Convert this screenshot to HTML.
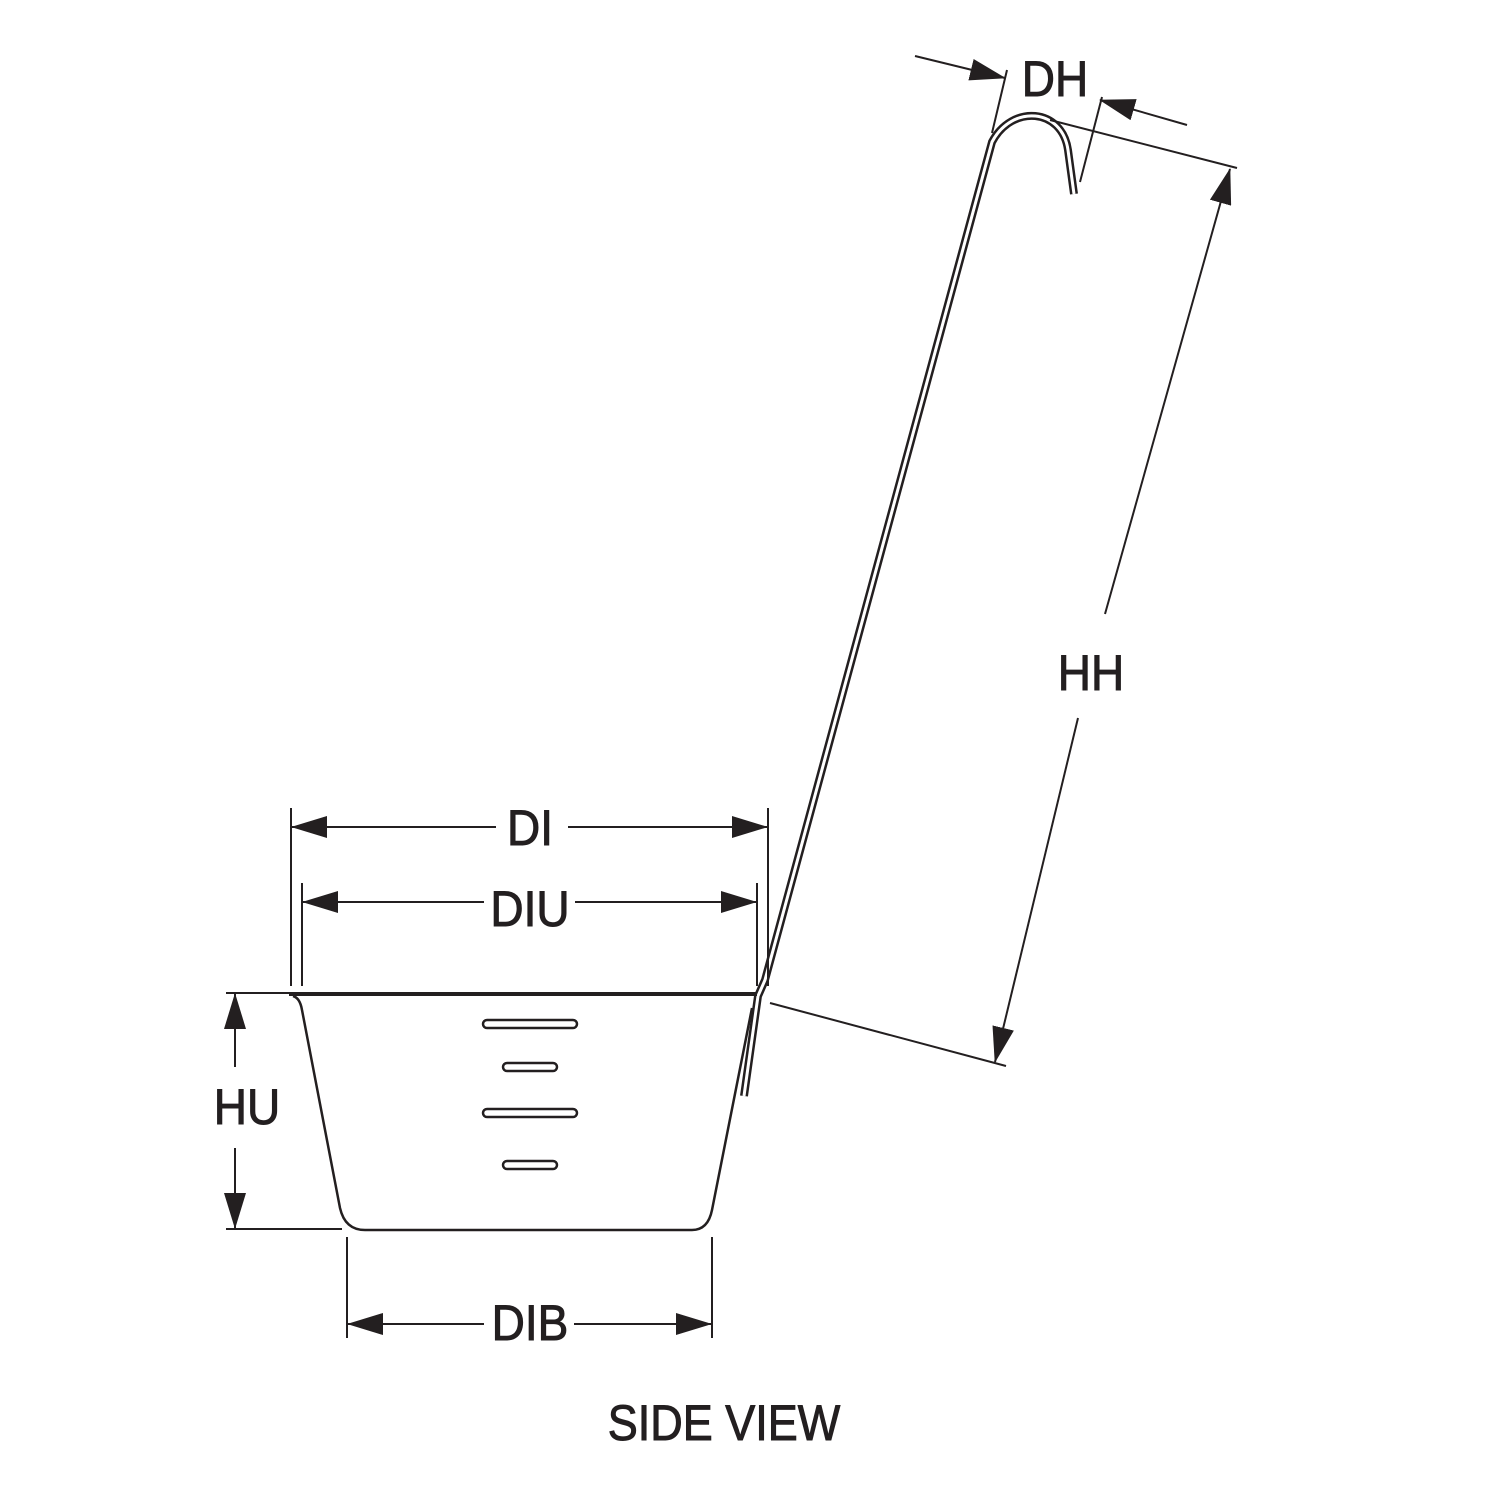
<!DOCTYPE html>
<html><head><style>
html,body{margin:0;padding:0;background:#fff;}
svg{display:block}
text{font-family:"Liberation Sans",sans-serif;fill:#231f20;}
</style></head><body>
<svg width="1500" height="1500" viewBox="0 0 1500 1500" xmlns="http://www.w3.org/2000/svg">
<defs>
<marker id="a" markerWidth="36" markerHeight="22" refX="35" refY="11" orient="auto" markerUnits="userSpaceOnUse">
<path d="M0,0 L36,11 L0,22 Z" fill="#231f20"/>
</marker>
</defs>
<g stroke="#231f20" fill="none" stroke-width="2">
<!-- handle -->
<path d="M1074,194 L1068,150 C1062,108 1012,104 992,142 L765,980 L758,996 L744,1096" stroke-width="8" stroke-linejoin="round"/>
<path d="M1074,194 L1068,150 C1062,108 1012,104 992,142 L765,980 L758,996 L744,1096" stroke="#fff" stroke-width="3" stroke-linejoin="round"/>
<!-- bowl -->
<path d="M289,994 L757,994" stroke-width="4"/>
<path d="M293,996 Q300,998 302,1010 L340,1208 Q345,1230 365,1230 L692,1230 Q708,1230 712,1210 L752,1008" stroke-width="2.5"/>
<!-- slots -->
<rect x="483" y="1020" width="94" height="8" rx="4" stroke-width="2.5"/>
<rect x="503" y="1063" width="54" height="8" rx="4" stroke-width="2.5"/>
<rect x="483" y="1109" width="94" height="8" rx="4" stroke-width="2.5"/>
<rect x="503" y="1161" width="54" height="8" rx="4" stroke-width="2.5"/>
<!-- DI -->
<line x1="291" y1="808" x2="291" y2="986"/>
<line x1="768" y1="808" x2="768" y2="986"/>
<line x1="496" y1="827" x2="292" y2="827" marker-end="url(#a)"/>
<line x1="568" y1="827" x2="767" y2="827" marker-end="url(#a)"/>
<!-- DIU -->
<line x1="302" y1="883" x2="302" y2="986"/>
<line x1="757" y1="883" x2="757" y2="986"/>
<line x1="484" y1="902" x2="303" y2="902" marker-end="url(#a)"/>
<line x1="575" y1="902" x2="756" y2="902" marker-end="url(#a)"/>
<!-- HU -->
<line x1="226" y1="993" x2="289" y2="993"/>
<line x1="226" y1="1229" x2="342" y2="1229"/>
<line x1="235" y1="1067" x2="235" y2="994" marker-end="url(#a)"/>
<line x1="235" y1="1148" x2="235" y2="1228" marker-end="url(#a)"/>
<!-- DIB -->
<line x1="347" y1="1237" x2="347" y2="1338"/>
<line x1="712" y1="1237" x2="712" y2="1338"/>
<line x1="484" y1="1324" x2="348" y2="1324" marker-end="url(#a)"/>
<line x1="574" y1="1324" x2="711" y2="1324" marker-end="url(#a)"/>
<!-- DH -->
<line x1="1007" y1="70" x2="992" y2="133"/>
<line x1="1102" y1="97" x2="1080" y2="182"/>
<line x1="915" y1="56" x2="1005" y2="78" marker-end="url(#a)"/>
<line x1="1187" y1="125" x2="1100" y2="100" marker-end="url(#a)"/>
<!-- HH -->
<line x1="1050" y1="120" x2="1237" y2="168"/>
<line x1="770" y1="1003" x2="1006" y2="1066"/>
<line x1="1105" y1="614" x2="1230" y2="169" marker-end="url(#a)"/>
<line x1="1078" y1="718" x2="995" y2="1062" marker-end="url(#a)"/>
</g>
<g font-size="50" text-anchor="middle" stroke="#231f20" stroke-width="1">
<text x="530" y="845" transform="translate(530 0) scale(0.92 1) translate(-530 0)">DI</text>
<text x="530" y="926" transform="translate(530 0) scale(0.92 1) translate(-530 0)">DIU</text>
<text x="247" y="1124" transform="translate(247 0) scale(0.92 1) translate(-247 0)">HU</text>
<text x="530" y="1340" transform="translate(530 0) scale(0.92 1) translate(-530 0)">DIB</text>
<text x="1055" y="96" transform="translate(1055 0) scale(0.92 1) translate(-1055 0)">DH</text>
<text x="1091" y="690" transform="translate(1091 0) scale(0.92 1) translate(-1091 0)">HH</text>
<text x="724" y="1440" transform="translate(724 0) scale(0.9 1) translate(-724 0)">SIDE VIEW</text>
</g>
</svg>
</body></html>
